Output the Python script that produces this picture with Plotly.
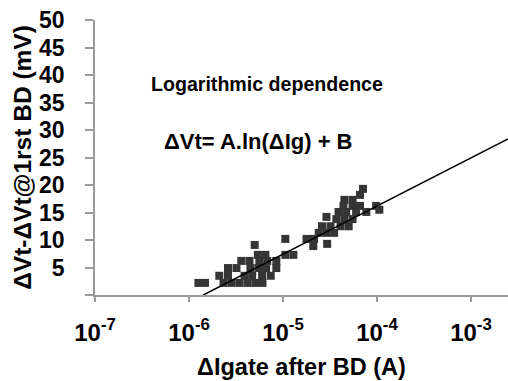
import plotly.graph_objects as go

# Measured points: ΔIgate after BD (A) and ΔVt - ΔVt@1rst BD (mV)
delta_ig = [
    1.26e-6, 1.48e-6, 2.33e-6, 2.83e-6, 3.44e-6, 4.19e-6, 5.09e-6, 6.05e-6,
    2.1e-6, 2.6e-6, 3.9e-6, 4.7e-6, 6.0e-6, 7.4e-6,
    2.6e-6, 3.2e-6, 4.5e-6, 5.5e-6, 6.6e-6, 8.5e-6,
    3.6e-6, 4.4e-6, 5.6e-6, 6.8e-6, 8.5e-6,
    5.4e-6, 6.5e-6, 1.06e-5, 1.29e-5,
    5.0e-6, 1.06e-5, 1.78e-5, 2.14e-5, 2.1e-5, 2.95e-5,
    2.4e-5, 2.9e-5, 3.5e-5,
    2.6e-5, 3.2e-5, 4.1e-5, 5.0e-5,
    3.7e-5, 4.5e-5, 5.5e-5, 2.9e-5,
    3.9e-5, 4.7e-5, 6.0e-5, 7.7e-5,
    4.4e-5, 5.5e-5, 6.6e-5, 9.8e-5, 1.06e-4,
    4.5e-5, 5.5e-5, 6.6e-5, 7.1e-5,
]
delta_vt = [
    2.2, 2.2, 2.2, 2.2, 2.2, 2.2, 2.2, 2.2,
    3.5, 3.5, 3.5, 3.5, 3.5, 3.5,
    4.9, 4.9, 4.9, 4.9, 4.9, 4.9,
    6.2, 6.2, 6.2, 6.2, 6.2,
    7.3, 7.3, 7.3, 7.3,
    9.1, 10.2, 10.2, 10.2, 8.9, 9.3,
    11.3, 11.3, 11.3,
    12.5, 12.5, 12.5, 12.5,
    13.8, 13.8, 13.8, 14.2,
    15.1, 15.1, 15.1, 15.1,
    16.2, 16.2, 16.2, 16.2, 15.5,
    17.3, 17.3, 18.2, 19.3,
]

# Logarithmic fit line end points
fit_x = [1.42e-6, 2.48e-3]
fit_y = [0.0, 28.4]

x_tickvals = [1e-7, 1e-6, 1e-5, 1e-4, 1e-3]
x_ticktext = ["<b>10<sup>-7</sup></b>", "<b>10<sup>-6</sup></b>", "<b>10<sup>-5</sup></b>",
              "<b>10<sup>-4</sup></b>", "<b>10<sup>-3</sup></b>"]
y_tickvals = [0, 5, 10, 15, 20, 25, 30, 35, 40, 45, 50]
y_ticktext = ["", "<b>5</b>", "<b>10</b>", "<b>15</b>", "<b>20</b>", "<b>25</b>",
              "<b>30</b>", "<b>35</b>", "<b>40</b>", "<b>45</b>", "<b>50</b>"]

FONT = "Liberation Sans, Arial, Helvetica, sans-serif"
AXIS_COLOR = "#9a9a9a"

W, H = 508, 381
L, R, T, B = 95, 0, 20, 86

fig = go.Figure()
fig.add_trace(go.Scatter(
    x=delta_ig, y=delta_vt, mode="markers",
    marker=dict(symbol="square", size=8, color="#353535", line=dict(width=0)),
    showlegend=False, cliponaxis=False,
))
fig.add_trace(go.Scatter(
    x=fit_x, y=fit_y, mode="lines",
    line=dict(color="black", width=1.5),
    showlegend=False,
))

fig.update_layout(
    width=W, height=H,
    margin=dict(l=L, r=R, t=T, b=B),
    paper_bgcolor="white", plot_bgcolor="white",
    font=dict(family=FONT, color="black", size=22),
    xaxis=dict(
        type="log", range=[-7, -2.606], automargin=False,
        tickvals=x_tickvals, ticktext=x_ticktext,
        showline=True, linecolor=AXIS_COLOR, linewidth=1.5,
        ticks="outside", ticklen=5, tickcolor=AXIS_COLOR, tickwidth=1.5,
        showgrid=False, zeroline=False,
        tickfont=dict(family=FONT, size=24, color="black"),
        ticklabelstandoff=10, ticklabeloverflow="allow",
        title=dict(text="<b>ΔIgate after BD (A)</b>",
                   font=dict(family=FONT, size=23.5, color="black"), standoff=14),
    ),
    yaxis=dict(
        range=[0, 50], automargin=False,
        tickvals=y_tickvals, ticktext=y_ticktext,
        showline=True, linecolor=AXIS_COLOR, linewidth=1.5,
        ticks="outside", ticklen=8, tickcolor=AXIS_COLOR, tickwidth=1.5,
        showgrid=False, zeroline=False,
        tickfont=dict(family=FONT, size=23, color="black"),
        ticklabelstandoff=16, ticklabeloverflow="allow",
        title=dict(text="<b>ΔVt-ΔVt@1rst BD (mV)</b>",
                   font=dict(family=FONT, size=24.5, color="black"), standoff=0),
    ),
)

plot_w = W - L - R
plot_h = H - T - B


def to_paper(px, py):
    return (px - L) / plot_w, (H - B - py) / plot_h


ax1, ay1 = to_paper(149, 84)
ax2, ay2 = to_paper(162, 141)
fig.add_annotation(text="<b>Logarithmic dependence</b>", x=ax1, y=ay1,
                   xref="paper", yref="paper", showarrow=False,
                   xanchor="left", yanchor="middle",
                   font=dict(family=FONT, size=19.6, color="black"))
fig.add_annotation(text="<b>ΔVt= A.ln(ΔIg) + B</b>", x=ax2, y=ay2,
                   xref="paper", yref="paper", showarrow=False,
                   xanchor="left", yanchor="middle",
                   font=dict(family=FONT, size=22, color="black"))

fig.write_html("out.html", config={"displayModeBar": False},
               post_script="document.body.style.margin='0';")
